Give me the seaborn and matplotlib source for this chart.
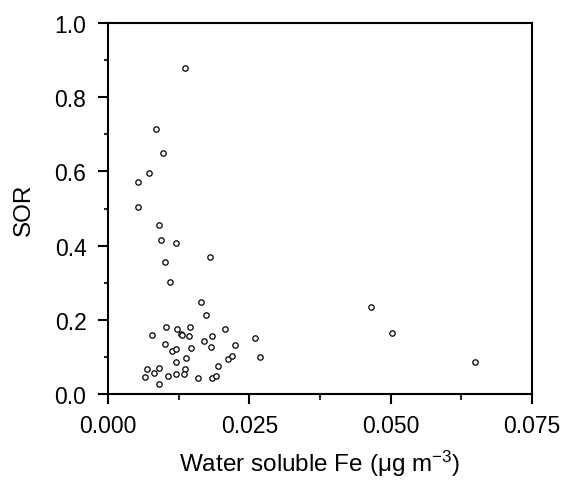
import matplotlib
matplotlib.use("Agg")
import matplotlib.pyplot as plt
import seaborn as sns
import pandas as pd
from matplotlib.ticker import MultipleLocator

water_soluble_fe = [
    0.01370, 0.00854, 0.00981, 0.00720, 0.00529, 0.00522, 0.00905, 0.00937,
    0.01204, 0.01797, 0.01013, 0.01094, 0.01653, 0.01741, 0.04645, 0.05015,
    0.06493, 0.00771, 0.01029, 0.01229, 0.01453, 0.01288, 0.01312, 0.01441,
    0.01847, 0.02071, 0.02600, 0.02247, 0.01706, 0.01829, 0.01476, 0.01000,
    0.01135, 0.01200, 0.01388, 0.01200, 0.02130, 0.02188, 0.02682, 0.01953,
    0.00682, 0.00906, 0.01359, 0.00653, 0.00812, 0.01065, 0.01206, 0.01353,
    0.01588, 0.01841, 0.01906, 0.00906,
]
sor = [
    0.879, 0.714, 0.650, 0.596, 0.571, 0.504, 0.455, 0.414,
    0.406, 0.369, 0.356, 0.302, 0.247, 0.212, 0.2345, 0.164,
    0.0863, 0.159, 0.180, 0.175, 0.1796, 0.162, 0.159, 0.1556,
    0.1556, 0.176, 0.151, 0.1316, 0.142, 0.128, 0.1244, 0.134,
    0.1156, 0.120, 0.096, 0.0853, 0.0951, 0.1013, 0.0987, 0.0756,
    0.0676, 0.0711, 0.0684, 0.0453, 0.0569, 0.0489, 0.0533, 0.0551,
    0.0427, 0.0418, 0.0498, 0.0267,
]
x_ticks = [0.000, 0.025, 0.050, 0.075]
x_tick_labels = ["0.000", "0.025", "0.050", "0.075"]
y_ticks = [0.0, 0.2, 0.4, 0.6, 0.8, 1.0]
y_tick_labels = ["0.0", "0.2", "0.4", "0.6", "0.8", "1.0"]

df = pd.DataFrame({"fe": water_soluble_fe, "sor": sor})

sns.set_style("ticks")
plt.rcParams["font.family"] = ["Liberation Sans", "DejaVu Sans"]
plt.rcParams["mathtext.fontset"] = "custom"
plt.rcParams["mathtext.rm"] = "Liberation Sans"
plt.rcParams["mathtext.it"] = "Liberation Sans:italic"
plt.rcParams["text.color"] = "black"
plt.rcParams["axes.labelcolor"] = "black"

fig = plt.figure(figsize=(5.66, 4.81), dpi=100)
ax = fig.add_axes([108 / 566, 1 - 395 / 481, (532 - 108) / 566, (395 - 24) / 481])

sns.scatterplot(data=df, x="fe", y="sor", ax=ax, marker="o", s=15,
                facecolor="white", edgecolor="black", linewidth=0.9,
                legend=False, zorder=3)

ax.set_xlim(0, 0.075)
ax.set_ylim(0, 1.0)
ax.set_xticks(x_ticks)
ax.set_xticklabels(x_tick_labels)
ax.set_yticks(y_ticks)
ax.set_yticklabels(y_tick_labels)
ax.xaxis.set_minor_locator(MultipleLocator(0.0125))
ax.yaxis.set_minor_locator(MultipleLocator(0.1))

for sp in ax.spines.values():
    sp.set_visible(True)
    sp.set_linewidth(1.5)
    sp.set_color("black")

ax.tick_params(axis="both", which="major", direction="out", length=7.5,
               width=1.5, labelsize=16.5, colors="black", pad=8)
ax.tick_params(axis="x", which="minor", direction="out", length=4.5, width=1.5)
ax.tick_params(axis="y", which="minor", direction="out", length=3, width=1.5)
ax.tick_params(axis="x", which="major", pad=7)

ax.set_xlabel("Water soluble Fe (μg m$^{-3}$)", fontsize=17.5, labelpad=8)
ax.set_ylabel("SOR", fontsize=17.5, labelpad=14)

fig.savefig("out.png", dpi=100)
